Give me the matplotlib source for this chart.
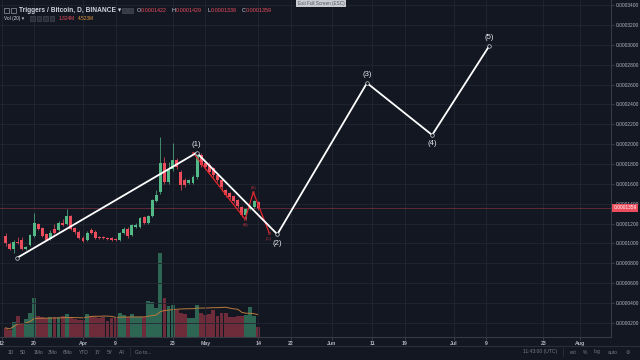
import matplotlib
matplotlib.use("Agg")
import matplotlib.pyplot as plt
import matplotlib.transforms as mtransforms
from matplotlib.lines import Line2D
from matplotlib.patches import Rectangle
import numpy as np
import pandas as pd

# daily candles, x = days from 2018-04-01, prices in satoshi (1e-8 BTC)
days = np.arange(-19, 44)
opens = [10743, 9936, 9432, 10138, 10340, 9432, 9836, 10743, 11952, 11549,
         10944, 10440, 11449, 11348, 12053, 11952, 12759, 11549, 11146, 10541,
         10340, 11348, 11146, 10642, 10600, 10541, 10500, 10440, 10340, 11045,
         11449, 10844, 11650, 11650, 12658, 12053, 12759, 14271, 15179, 18102,
         16187, 17497, 18404, 17195, 16388, 16086, 16086, 16691, 18908, 18102,
         17900, 17598, 16892, 16388, 15380, 15078, 14775, 14372, 13666, 12860,
         13465, 13666, 14220]
highs = [11000, 10100, 10300, 10650, 10600, 9750, 10950, 13061, 12100, 11650,
         11050, 11300, 12000, 12250, 12500, 13465, 12900, 11700, 11300, 10700,
         11200, 11500, 11300, 10750, 10700, 10650, 10600, 10550, 11150, 11700,
         11600, 12000, 12050, 12700, 12800, 12900, 14500, 15400, 20723, 18700,
         18200, 20118, 18600, 17400, 16600, 16500, 16900, 19300, 19100, 18300,
         18200, 17700, 17000, 16500, 15500, 15200, 14900, 14500, 13800, 13600,
         13900, 14400, 14290]
lows = [9750, 9300, 9050, 9950, 9350, 9350, 9700, 10600, 11350, 10640,
        10200, 10350, 10950, 11250, 11750, 11850, 11350, 10950, 10440, 10100,
        10200, 10950, 10400, 10450, 10400, 10350, 10250, 10200, 10250, 10950,
        10550, 10700, 11550, 11550, 11950, 11950, 12650, 14150, 15000, 16000,
        16000, 17300, 17500, 15400, 15700, 15950, 15950, 16500, 17700, 17500,
        17000, 16700, 16200, 15300, 14700, 14500, 14100, 13550, 12700, 12456,
        13350, 13550, 13380]
closes = [10037, 9432, 10138, 10037, 9432, 9634, 10844, 12053, 11449, 10743,
          10340, 11045, 11045, 12053, 11852, 12759, 11449, 11146, 10541, 10239,
          11045, 11045, 10541, 10541, 10500, 10440, 10340, 10290, 11045, 11449,
          10743, 11852, 11852, 12557, 12053, 12759, 14372, 14876, 18102, 16187,
          17497, 18404, 17699, 15884, 15884, 16388, 16691, 19110, 17900, 17699,
          17195, 16892, 16388, 15683, 14876, 14674, 14271, 13767, 12860, 13465,
          13767, 14271, 13590]
# volume in millions
volume_m = [1.7, 1.3, 2.8, 3.9, 2.6, 3.3, 4.4, 7.2, 3.9, 3.7,
            3.5, 3.7, 3.7, 3.7, 3.9, 4.3, 3.7, 3.3, 3.1, 3.1,
            4.3, 3.9, 3.7, 3.5, 3.7, 3.0, 3.5, 3.5, 4.4, 4.1,
            3.7, 4.3, 3.7, 3.7, 3.7, 6.7, 6.5, 5.4, 15.5, 7.2,
            5.7, 5.9, 5.0, 4.4, 4.3, 3.5, 3.5, 5.9, 4.4, 4.1,
            4.3, 5.0, 3.9, 4.4, 4.4, 3.7, 3.7, 3.9, 3.9, 4.1,
            5.6, 3.9, 1.824]
vol_header = ["1.824M", "4.523M"]

# elliott wave drawing
wave_days = [-16.1, 27.9, 47.7, 69.7, 85.7, 99.7]
wave_sat = [8555, 19140, 10914, 26167, 20925, 29897]
wave_labels = ["", "(1)", "(2)", "(3)", "(4)", "(5)"]
abc_days = [27.0, 39.8, 41.8, 45.7]
abc_sat = [19150, 12430, 15150, 11075]
abc_labels = ["", "(A)", "(B)", "(C)"]

tick_days = [-20, -12, 0, 8, 22, 30, 43, 51, 61, 71, 79, 91, 99, 113, 122]
tick_labels = ["12", "20", "Apr", "9", "23", "May", "14", "22", "Jun", "11",
               "19", "Jul", "9", "23", "Aug"]
price_ticks = np.arange(2000, 34001, 2000)

BG = "#131722"
GRID = "#222633"
UP, DOWN = "#53b987", "#eb4d5c"
VUP, VDOWN = "#2e6654", "#6e2c3b"
TXT = "#b2b5be"
W, H = 640, 360

plt.rcParams["font.family"] = ["Liberation Sans", "DejaVu Sans"]


def fx(x, y):
    return x / W, 1 - y / H


fig = plt.figure(figsize=(6.4, 3.6), dpi=100, facecolor=BG)
ax = fig.add_axes([0, 23 / H, 611 / W, 337 / H])
axv = ax.twinx()
ax.set_zorder(axv.get_zorder() + 1)
ax.patch.set_visible(False)
axv.set_facecolor(BG)

o, hi, lo, c = map(np.asarray, (opens, highs, lows, closes))
up = c >= o
cols = np.where(up, UP, DOWN)

# volume + MA(20)
vol = np.asarray(volume_m)
axv.bar(days, vol, width=0.95, color=np.where(up, VUP, VDOWN), zorder=1)
ma = pd.Series(vol).rolling(20, min_periods=1).mean()
axv.plot(days, ma, color="#b87a3c", lw=0.7, zorder=2)
axv.set_ylim(0, 337 * 0.185)
axv.set_yticks([])
for s in axv.spines.values():
    s.set_visible(False)

# candles
ax.vlines(days, lo, hi, colors=cols, lw=0.5, zorder=2)
ax.bar(days, np.maximum(np.abs(c - o), 40), bottom=np.minimum(o, c),
       width=0.72, color=cols, zorder=3)

last = closes[-1]
ax.axhline(last, color="#e94a5a", alpha=0.35, lw=0.7, zorder=1.5)

# white impulse
ax.plot(wave_days, wave_sat, color="white", lw=1.3, zorder=5,
        marker="o", ms=2.6, mfc=BG, mec="#cfd2d8", mew=0.5)
for i, (d, p, lab) in enumerate(zip(wave_days, wave_sat, wave_labels)):
    if not lab:
        continue
    peak = p > wave_sat[i - 1]
    ax.annotate(lab, (d, p), xytext=(0, 8 if peak else -9),
                textcoords="offset pixels", ha="center", va="center",
                fontsize=5.6, color="#e6e8ec", zorder=6)

# red correction
ax.plot(abc_days, abc_sat, color="#e3262b", lw=0.9, zorder=4,
        marker="o", ms=1.8, mfc="none", mec="#b5303a", mew=0.4)
for i, (d, p, lab) in enumerate(zip(abc_days, abc_sat, abc_labels)):
    if not lab:
        continue
    peak = p > abc_sat[i - 1]
    ax.annotate(lab, (d, p), xytext=(0, 4 if peak else -6),
                textcoords="offset pixels", ha="center", va="center",
                fontsize=3.2, color="#a8323d", zorder=6)

ax.set_xlim(-20.37, 129.6)
ax.set_ylim(561, 34534)
ax.set_xticks(tick_days, tick_labels)
ax.set_yticks(price_ticks)
ax.yaxis.tick_right()
ax.yaxis.set_major_formatter(lambda v, pos: f"{v * 1e-8:.7f}")
ax.tick_params(axis="y", length=2, width=0.5, color="#4a4e59", pad=1.5,
               labelsize=3.5, labelcolor=TXT)
ax.tick_params(axis="x", length=2, width=0.5, color="#4a4e59", pad=0.8,
               labelsize=3.8, labelcolor=TXT)
for t in ax.get_xticklabels():
    t.set_fontweight("bold")
ax.grid(color=GRID, lw=0.6)
ax.set_axisbelow(True)
for side in ("top", "left"):
    ax.spines[side].set_visible(False)
for side in ("right", "bottom"):
    ax.spines[side].set_color("#363a45")
    ax.spines[side].set_linewidth(0.8)

# last price tag on the scale
tr = mtransforms.blended_transform_factory(ax.transAxes, ax.transData)
ax.text(1.004, last, f"{last * 1e-8:.7f}", transform=tr, ha="left",
        va="center", fontsize=3.5, color="white", clip_on=False, zorder=10,
        bbox=dict(boxstyle="square,pad=0.35", fc="#ec4d5c", ec="none"))

# header
fig.text(*fx(19, 10), "Triggers / Bitcoin, D, BINANCE \u25be", fontsize=4.8,
         color="#d1d4dc", va="center", fontweight="bold")
for x0 in (4, 11):
    fig.patches.append(Rectangle(fx(x0, 12.5), 5 / W, 5 / H, fill=False,
                                 ec="#9598a1", lw=0.5,
                                 transform=fig.transFigure))
for x0 in (122, 128):
    fig.patches.append(Rectangle(fx(x0, 12.5), 5 / W, 5 / H, fill=True,
                                 fc="#363a45", ec="#50535e", lw=0.4,
                                 transform=fig.transFigure))
x = 137
for key, val in zip("OHLC", (opens[-1], highs[-1], lows[-1], closes[-1])):
    fig.text(*fx(x, 10), key, fontsize=3.9, color="#d1d4dc", va="center")
    fig.text(*fx(x + 4, 10), f"{val * 1e-8:.7f}", fontsize=3.9,
             color=DOWN, va="center")
    x += 35

fig.text(*fx(4, 18.5), "Vol (20) \u25be", fontsize=3.4, color="#d1d4dc",
         va="center")
for x0 in (30, 36.5, 43, 49.5):
    fig.patches.append(Rectangle(fx(x0, 20.5), 4.5 / W, 4.5 / H, fill=True,
                                 fc="#2a2e39", ec="#4a4e59", lw=0.4,
                                 transform=fig.transFigure))
fig.text(*fx(59, 18.5), vol_header[0], fontsize=3.4, color=DOWN, va="center")
fig.text(*fx(78, 18.5), vol_header[1], fontsize=3.4, color="#e39a3c",
         va="center")

fig.text(*fx(321, 3), "Exit Full Screen (ESC)", fontsize=3.3,
         color="#50535e", ha="center", va="center",
         bbox=dict(boxstyle="square,pad=0.4", fc="#c9cbd1", ec="none"))

# bottom toolbar
fig.lines.append(Line2D([0, 1], [1 - 345.5 / H] * 2, color="#2a2e39", lw=0.8,
                        transform=fig.transFigure))
ranges = ["1D", "5D", "1Mo", "3Mo", "6Mo", "YTD", "1Y", "5Y", "All"]
range_x = [11, 23, 38, 53, 68, 84, 98, 110, 122]
for lab, xx in zip(ranges, range_x):
    fig.text(*fx(xx, 352), lab, fontsize=3.6, color="#787b86", ha="center",
             va="center")
fig.text(*fx(135, 352), "Go to...", fontsize=3.6, color="#787b86",
         va="center")
right_items = [("11:43:00 (UTC)", 540), ("ext", 573), ("%", 585),
               ("log", 597), ("auto", 613), ("\u2699", 628)]
for lab, xx in right_items:
    fig.text(*fx(xx, 352), lab, fontsize=3.6, color="#787b86", ha="center",
             va="center")
for xx in (130, 563):
    fig.lines.append(Line2D([xx / W] * 2, [1 - 348 / H, 1 - 356 / H],
                            color="#2a2e39", lw=0.6,
                            transform=fig.transFigure))

fig.savefig("out.png", dpi=100, facecolor=BG)
